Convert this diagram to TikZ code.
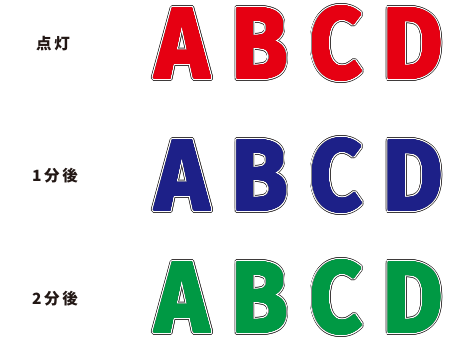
\documentclass[tikz,border=0pt]{standalone}
\usepackage{fontspec}
\usepackage{contour}
\usetikzlibrary{positioning}
\newfontfamily\jpfont{Noto Sans CJK JP}
\newfontfamily\bigfont{Fira Sans}
\contournumber{32}
\definecolor{litred}{HTML}{E60012}
\definecolor{litblue}{HTML}{1D2088}
\definecolor{litgreen}{HTML}{009944}
\definecolor{rimgray}{HTML}{3E3A3A}
\definecolor{labelgray}{HTML}{231815}
% outlined letter: dark rim, white ring, thin gray line, colour fill
\newcommand{\ringletter}[2]{%
  \rlap{\contourlength{3.1pt}\contour{rimgray}{\textcolor{rimgray}{#2}}}%
  \rlap{\contourlength{2.3pt}\contour{white}{\textcolor{white}{#2}}}%
  \rlap{\contourlength{1.2pt}\contour{black!45}{\textcolor{black!45}{#2}}}%
  \contourlength{0.8pt}\contour{#1}{\textcolor{#1}{#2}}}

\begin{document}
\begin{tikzpicture}[x=1pt, y=-1pt,
  rowlabel/.style={inner sep=0pt, text=labelgray, font=\jpfont\bfseries\fontsize{15.5}{15.5}\selectfont},
  bigletter/.style={inner sep=0pt, font=\bigfont\bfseries\fontsize{101}{101}\selectfont, xscale=0.9}]
  \useasboundingbox (0,0) rectangle (458,355);

  % row labels
  \node[rowlabel] (L0) at (53,44) {点\,灯};
  \node[rowlabel] (L1) at (55,176) {1\,分\,後};
  \node[rowlabel] (L2) at (55,299) {2\,分\,後};

  % lit
  \node[bigletter] (A0) at (182.5,45) {\ringletter{litred}{A}};
  \node[bigletter] (B0) at (260,45) {\ringletter{litred}{B}};
  \node[bigletter] (C0) at (336,45) {\ringletter{litred}{C}};
  \node[bigletter] (D0) at (413,45) {\ringletter{litred}{D}};

  % after 1 minute
  \node[bigletter] (A1) at (182.5,177) {\ringletter{litblue}{A}};
  \node[bigletter] (B1) at (260,177) {\ringletter{litblue}{B}};
  \node[bigletter] (C1) at (336,177) {\ringletter{litblue}{C}};
  \node[bigletter] (D1) at (413,177) {\ringletter{litblue}{D}};

  % after 2 minutes
  \node[bigletter] (A2) at (182.5,299) {\ringletter{litgreen}{A}};
  \node[bigletter] (B2) at (260,299) {\ringletter{litgreen}{B}};
  \node[bigletter] (C2) at (336,299) {\ringletter{litgreen}{C}};
  \node[bigletter] (D2) at (413,299) {\ringletter{litgreen}{D}};
\end{tikzpicture}
\end{document}
